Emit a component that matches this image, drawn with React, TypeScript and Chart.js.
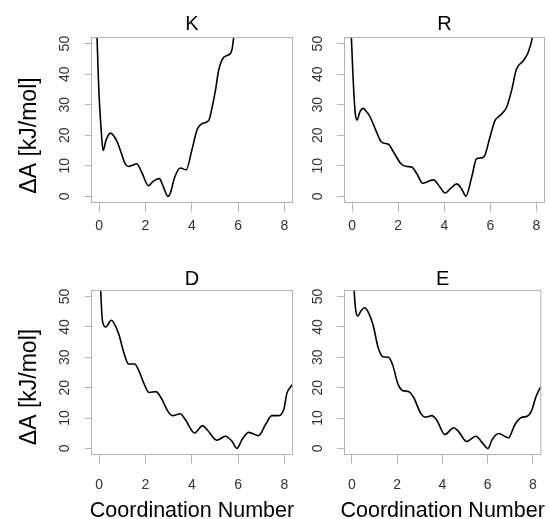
import React, { useEffect, useRef } from "react";
import { Chart, registerables } from "chart.js";

Chart.register(...registerables);

// ---------- data ----------
const panelTitles = ["K", "R", "D", "E"];
const yAxisTitle = "ΔA [kJ/mol]";
const xAxisTitle = "Coordination Number";
const xTickValues = [0, 2, 4, 6, 8];
const yTickValues = [0, 10, 20, 30, 40, 50];

const kX = [-0.14, -0.09, -0.04, 0, 0.08, 0.17, 0.3, 0.49, 0.75, 0.97, 1.12, 1.26, 1.45, 1.62, 1.84, 2.13, 2.34, 2.6, 2.78, 2.97, 3.08, 3.25, 3.5, 3.76, 4.0, 4.22, 4.44, 4.73, 4.88, 5.02, 5.16, 5.38, 5.67, 5.74, 5.81, 5.9];
const kY = [66, 52, 40, 32.5, 22.6, 15, 18.5, 20.7, 18.3, 13.9, 10.7, 9.8, 10.2, 10.7, 7.9, 3.5, 5.0, 5.8, 3.0, 0, 1.2, 6, 9.3, 8.7, 15, 21.6, 23.8, 24.8, 29.2, 34.6, 41.2, 45.5, 46.8, 48.2, 52, 57];

const rX = [-0.08, -0.03, 0.03, 0.07, 0.14, 0.22, 0.33, 0.48, 0.65, 0.79, 1.01, 1.25, 1.45, 1.59, 1.8, 2.12, 2.38, 2.59, 2.81, 3.07, 3.3, 3.53, 3.82, 4.03, 4.3, 4.54, 4.75, 4.94, 5.19, 5.4, 5.62, 5.76, 5.98, 6.2, 6.41, 6.7, 6.92, 7.13, 7.42, 7.64, 7.82, 7.9];
const rY = [62, 51.7, 41, 34.6, 27, 25, 27.5, 28.8, 27.5, 25.9, 22, 18, 17.3, 17, 14.5, 10.7, 9.8, 9.6, 7.4, 4.3, 4.9, 5.4, 3.0, 1.1, 2.8, 4.1, 2.5, 0.1, 6.3, 12.3, 12.6, 13.4, 19.3, 24.8, 26.4, 29.1, 34.6, 41.6, 44.3, 47.1, 51.7, 55];

const dX = [0.02, 0.07, 0.14, 0.29, 0.52, 0.62, 0.84, 1.1, 1.27, 1.53, 1.73, 1.96, 2.16, 2.45, 2.68, 2.97, 3.17, 3.5, 3.72, 4.12, 4.47, 4.68, 5.09, 5.45, 5.73, 5.95, 6.17, 6.46, 6.89, 7.18, 7.46, 7.72, 7.97, 8.11, 8.26, 8.45];
const dY = [62, 51.7, 42.2, 40, 42.2, 41.5, 37.8, 30.7, 27.8, 27.8, 25.3, 20.9, 18.4, 18.7, 16.6, 12.2, 10.8, 11.4, 9.5, 5.1, 7.5, 6.0, 2.7, 4.0, 2.4, 0, 2.9, 5.3, 4.2, 7.8, 10.8, 10.8, 12.7, 18.2, 20.2, 21.8];

const eX = [0.05, 0.1, 0.17, 0.26, 0.4, 0.55, 0.72, 0.94, 1.15, 1.37, 1.61, 1.8, 2.02, 2.23, 2.52, 2.74, 3.03, 3.24, 3.53, 3.75, 4.11, 4.5, 4.7, 5.07, 5.48, 5.76, 6.01, 6.2, 6.48, 6.92, 7.2, 7.49, 7.75, 7.93, 8.14, 8.36, 8.45];
const eY = [62, 51.7, 45.4, 43.6, 45.3, 46.3, 44.9, 40.5, 33.4, 30.2, 30.0, 27.5, 21.5, 19.1, 18.7, 16.6, 11.7, 10.3, 10.8, 9.3, 4.6, 6.8, 5.7, 2.3, 4.0, 1.9, 0, 2.9, 4.9, 3.5, 7.8, 10.2, 10.6, 12.2, 17.1, 20.4, 21.2];

const seriesX = [kX, rX, dX, eX];
const seriesY = [kY, rY, dY, eY];

// ---------- layout / style ----------
const W = 550;
const H = 519;
const X_MIN = -0.33;
const X_MAX = 8.35;
const Y_MIN = -2;
const Y_MAX = 52;
const Y_AXIS_W = 40;
const X_AXIS_H = 40;
const FONT = "'Liberation Sans', Arial, Helvetica, sans-serif";
const BOX_GRAY = "#b3b3b3";
const TICK_TEXT = "#333333";

type Layout = {
  left: number; right: number; top: number; bottom: number;
  xLabelPad: number; titleBase: number; yTitleY: number | null; xTitleBase: number | null;
};

const layouts: Layout[] = [
  { left: 91.5, right: 292.5, top: 37.5, bottom: 202.5, xLabelPad: 6.5, titleBase: 30, yTitleY: 135.5, xTitleBase: null },
  { left: 344.5, right: 544.5, top: 37.5, bottom: 202.5, xLabelPad: 6.5, titleBase: 30, yTitleY: null, xTitleBase: null },
  { left: 91.5, right: 292.5, top: 290.5, bottom: 454.5, xLabelPad: 13, titleBase: 284.5, yTitleY: 387, xTitleBase: 516.5 },
  { left: 344.5, right: 544.5, top: 290.5, bottom: 454.5, xLabelPad: 13, titleBase: 284.5, yTitleY: null, xTitleBase: 516.5 },
];

function Panel({ index }: { index: number }) {
  const ref = useRef<HTMLCanvasElement | null>(null);

  useEffect(() => {
    const canvas = ref.current;
    if (!canvas) return;
    const lay = layouts[index];
    const xs = seriesX[index];
    const ys = seriesY[index];
    const data = xs.map((x, i) => ({ x, y: ys[i] }));

    const decor = {
      id: "rdecor" + index,
      afterDatasetsDraw(chart: any) {
        const { ctx, chartArea: a } = chart;
        ctx.save();
        ctx.strokeStyle = BOX_GRAY;
        ctx.lineWidth = 1;
        ctx.strokeRect(a.left, a.top, a.right - a.left, a.bottom - a.top);
        const cx = (a.left + a.right) / 2;
        ctx.fillStyle = "#000000";
        ctx.textAlign = "center";
        ctx.textBaseline = "alphabetic";
        ctx.font = `20px ${FONT}`;
        ctx.fillText(panelTitles[index], cx, lay.titleBase);
        if (lay.xTitleBase !== null) {
          ctx.font = `21.5px ${FONT}`;
          ctx.fillText(xAxisTitle, cx, lay.xTitleBase);
        }
        if (lay.yTitleY !== null) {
          ctx.translate(30, lay.yTitleY);
          ctx.rotate(-Math.PI / 2);
          ctx.textBaseline = "middle";
          ctx.font = `23px ${FONT}`;
          ctx.fillText(yAxisTitle, 0, 0);
        }
        ctx.restore();
      },
    };

    const chart = new Chart(canvas, {
      type: "line",
      data: {
        datasets: [
          {
            data,
            borderColor: "#000000",
            borderWidth: 1.6,
            pointRadius: 0,
            pointHoverRadius: 0,
            fill: false,
            cubicInterpolationMode: "monotone",
            clip: 0,
          } as any,
        ],
      },
      options: {
        responsive: false,
        animation: false,
        events: [],
        layout: {
          padding: {
            left: lay.left - Y_AXIS_W,
            right: W - lay.right,
            top: lay.top,
            bottom: H - lay.bottom - X_AXIS_H,
          },
        },
        elements: { line: { capBezierPoints: false } },
        plugins: {
          legend: { display: false },
          title: { display: false },
          tooltip: { enabled: false },
        },
        scales: {
          x: {
            type: "linear",
            position: "bottom",
            min: X_MIN,
            max: X_MAX,
            afterBuildTicks: (s: any) => {
              s.ticks = xTickValues.map((v) => ({ value: v }));
            },
            afterFit: (s: any) => {
              s.height = X_AXIS_H;
            },
            grid: {
              display: true,
              drawOnChartArea: false,
              drawTicks: true,
              tickLength: 9,
              color: BOX_GRAY,
              lineWidth: 1,
            },
            border: { display: false },
            ticks: {
              autoSkip: false,
              maxRotation: 0,
              minRotation: 0,
              padding: lay.xLabelPad,
              color: TICK_TEXT,
              font: { family: FONT, size: 14 },
            },
          },
          y: {
            type: "linear",
            position: "left",
            min: Y_MIN,
            max: Y_MAX,
            afterBuildTicks: (s: any) => {
              s.ticks = yTickValues.map((v) => ({ value: v }));
            },
            afterFit: (s: any) => {
              s.width = Y_AXIS_W;
            },
            grid: {
              display: true,
              drawOnChartArea: false,
              drawTicks: true,
              tickLength: 7,
              color: BOX_GRAY,
              lineWidth: 1,
            },
            border: { display: false },
            ticks: {
              autoSkip: false,
              minRotation: 90,
              maxRotation: 90,
              crossAlign: "center",
              padding: 12,
              color: TICK_TEXT,
              font: { family: FONT, size: 14 },
            },
          },
        },
      } as any,
      plugins: [decor],
    });

    return () => {
      chart.destroy();
    };
  }, [index]);

  return (
    <canvas
      ref={ref}
      width={W}
      height={H}
      style={{ position: "absolute", left: 0, top: 0, width: W, height: H }}
    />
  );
}

export default function App() {
  return (
    <div
      style={{
        position: "absolute",
        left: 0,
        top: 0,
        width: W,
        height: H,
        background: "#ffffff",
        overflow: "hidden",
      }}
    >
      {panelTitles.map((_, i) => (
        <Panel key={i} index={i} />
      ))}
    </div>
  );
}
